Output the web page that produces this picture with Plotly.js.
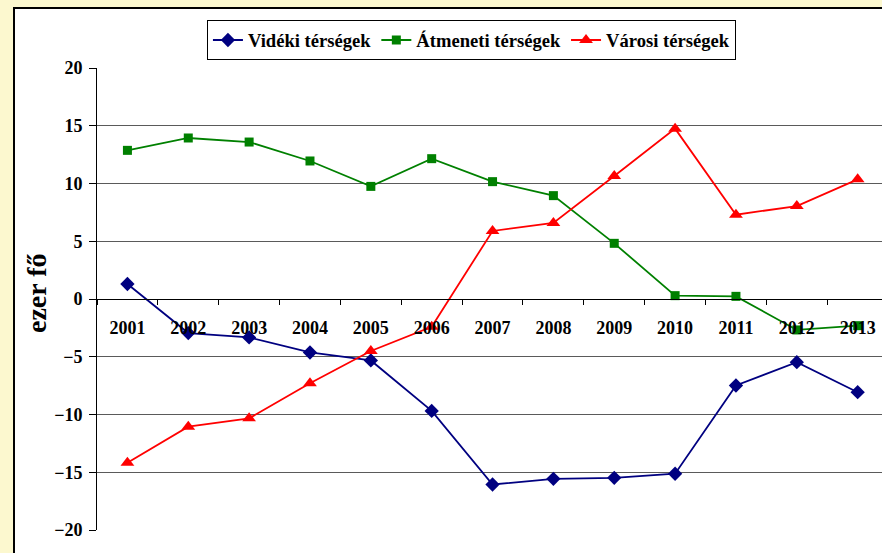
<!DOCTYPE html>
<html>
<head>
<meta charset="utf-8">
<script src="https://cdn.plot.ly/plotly-3.0.1.min.js"></script>
<style>
  html, body { margin: 0; padding: 0; background: #FCF8CF; width: 882px; height: 553px; overflow: hidden; }
  #frame { position: absolute; left: 13px; top: 7px; width: 869px; height: 546px; background: #ffffff;
           border-left: 2px solid #000; border-top: 2px solid #000; box-sizing: border-box; }
  #chart { position: absolute; left: 0; top: 0; width: 867px; height: 544px; }
</style>
</head>
<body>
<div id="frame"><div id="chart"></div></div>
<script>
const years = ['2001','2002','2003','2004','2005','2006','2007','2008','2009','2010','2011','2012','2013'];
const videki   = [1.3, -2.95, -3.33, -4.63, -5.32, -9.69, -16.06, -15.57, -15.48, -15.13, -7.49, -5.47, -8.07];
const atmeneti = [12.87, 13.94, 13.59, 11.95, 9.75, 12.15, 10.16, 8.95, 4.82, 0.29, 0.23, -2.68, -2.31];
const varosi   = [-14.17, -11.05, -10.33, -7.30, -4.50, -2.40, 5.89, 6.58, 10.65, 14.75, 7.30, 8.05, 10.36];
const seriesNames = ['Vidéki térségek', 'Átmeneti térségek', 'Városi térségek'];
const yTitle = 'ezer fő';

const serif = '"Liberation Serif", "Times New Roman", serif';

const traces = [
  { x: years, y: videki, name: seriesNames[0], type: 'scatter', mode: 'lines+markers',
    line: { color: '#000080', width: 1.8 }, marker: { symbol: 'diamond', size: 11, color: '#000080' } },
  { x: years, y: atmeneti, name: seriesNames[1], type: 'scatter', mode: 'lines+markers',
    line: { color: '#008000', width: 1.8 }, marker: { symbol: 'square', size: 9, color: '#008000' } },
  { x: years, y: varosi, name: seriesNames[2], type: 'scatter', mode: 'lines+markers',
    line: { color: '#FF0000', width: 1.8 }, marker: { symbol: 'triangle-up', size: 12, color: '#FF0000' } }
];

const layout = {
  width: 867, height: 544,
  margin: { l: 82, r: 0, t: 58.7, b: 23.3, pad: 0 },
  paper_bgcolor: '#ffffff',
  plot_bgcolor: '#ffffff',
  font: { family: serif, size: 18, color: '#000', weight: 'bold' },
  showlegend: true,
  legend: {
    orientation: 'h', x: 0.477, xanchor: 'center', y: 1.103, yanchor: 'top',
    bgcolor: '#ffffff', bordercolor: '#000000', borderwidth: 1,
    font: { family: serif, size: 18.6, color: '#000', weight: 'bold' },
    itemwidth: 30, tracegroupgap: 0
  },
  xaxis: {
    type: 'category', range: [-0.5, 12.40], anchor: 'free', position: 0.5,
    tickson: 'boundaries', ticks: 'outside', ticklen: 5, tickcolor: '#000', tickwidth: 1,
    showline: true, linecolor: '#000', linewidth: 1, showgrid: false, zeroline: false,
    ticklabelstandoff: 12,
    tickfont: { family: serif, size: 18, color: '#000', weight: 'bold' }
  },
  yaxis: {
    range: [-20, 20], dtick: 5, tick0: 0, ticks: 'outside', ticklen: 7, tickcolor: '#000',
    showline: true, linecolor: '#000', linewidth: 1,
    showgrid: true, gridcolor: '#5a5a5a', gridwidth: 1, zeroline: false,
    ticklabelstandoff: 3,
    tickfont: { family: serif, size: 18, color: '#000', weight: 'bold' },
    automargin: false
  },
  annotations: [{
    text: yTitle, xref: 'paper', yref: 'paper', x: -0.0771, y: 0.514,
    xanchor: 'center', yanchor: 'middle', textangle: -90, showarrow: false,
    font: { family: serif, size: 28, color: '#000', weight: 'bold' }
  }]
};

Plotly.newPlot('chart', traces, layout, { displayModeBar: false, staticPlot: true });
</script>
</body>
</html>
